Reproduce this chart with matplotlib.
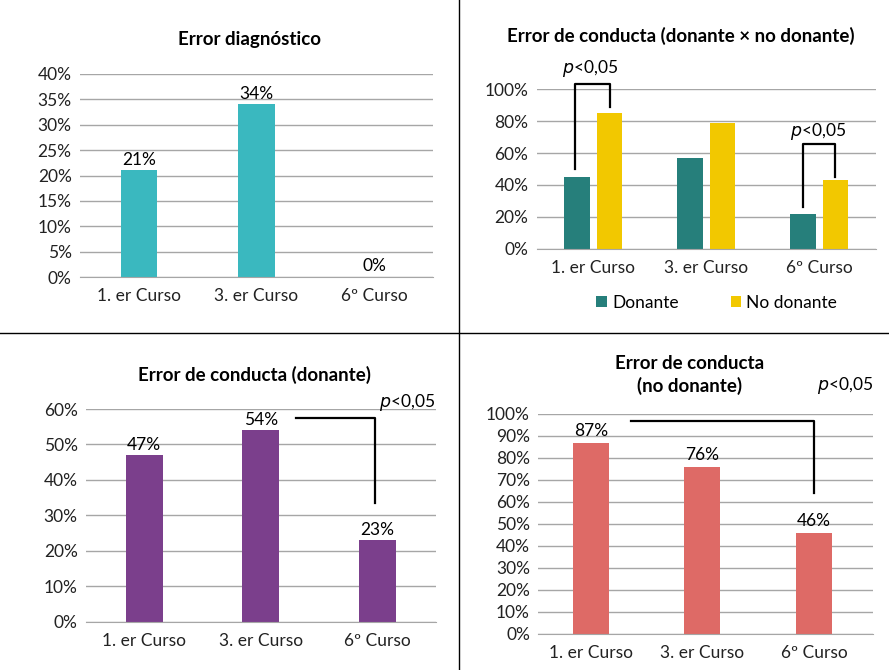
import matplotlib
matplotlib.use('Agg')
import matplotlib.pyplot as plt
from matplotlib.lines import Line2D
import numpy as np

plt.rcParams['font.family'] = ['Lato', 'DejaVu Sans']

cursos = ['1. er Curso', '3. er Curso', '6º Curso']

# Error diagnóstico
diag = [21, 34, 0]
# Error de conducta, donante x no donante
cond_donante = [45, 57, 22]
cond_no_donante = [85, 79, 43]
# Error de conducta (donante)
donante = [47, 54, 23]
# Error de conducta (no donante)
no_donante = [87, 76, 46]

W, H = 889, 670
fig = plt.figure(figsize=(W / 100, H / 100), dpi=100)

GRID = '#a6a6a6'
FS = 12.5
TFS = 13.5


def px_axes(left, top, right, bottom):
    return fig.add_axes([left / W, 1 - bottom / H, (right - left) / W, (bottom - top) / H])


def style(ax, ymax, step):
    ax.set_ylim(0, ymax)
    ax.set_yticks(np.arange(0, ymax + 0.1, step))
    ax.set_yticklabels([f'{int(v)}%' for v in np.arange(0, ymax + 0.1, step)])
    ax.yaxis.grid(True, color=GRID, lw=1)
    ax.set_axisbelow(True)
    for s in ['top', 'right', 'left']:
        ax.spines[s].set_visible(False)
    ax.spines['bottom'].set_color(GRID)
    ax.tick_params(length=0, labelsize=FS, colors='#222222')
    ax.tick_params(axis='y', pad=6)
    ax.tick_params(axis='x', pad=8)
    ax.set_xticks(range(3))
    ax.set_xticklabels(cursos)


def bracket(ax, xs, ys):
    ax.add_line(Line2D(xs, ys, color='black', lw=1.6, clip_on=False))


def ptext(ax, x, y, ha='center', transform=None):
    ax.text(x, y, r'$\it{p}$<0,05', ha=ha, va='center', fontsize=FS,
            transform=transform or ax.transData, clip_on=False)


# panel 1
ax1 = px_axes(80, 74, 433, 277)
x = np.arange(3)
ax1.bar(x, diag, width=0.31, color='#3ab8bf')
style(ax1, 40, 5)
ax1.set_xlim(-0.5, 2.5)
for i, v in enumerate(diag):
    ax1.text(i, v + 0.5, f'{v}%', ha='center', va='bottom', fontsize=FS)
fig.text(250 / W, 1 - 40 / H, 'Error diagnóstico', ha='center', va='center',
         fontsize=TFS, fontweight='bold')

# panel 2
ax2 = px_axes(536.7, 89.3, 875.7, 248.7)
off = 0.143
ax2.bar(x - off, cond_donante, width=0.224, color='#267f7b', label='Donante')
ax2.bar(x + off, cond_no_donante, width=0.224, color='#f2c800', label='No donante')
style(ax2, 100, 20)
ax2.set_xlim(-0.5, 2.5)
bracket(ax2, [-off - 0.02, -off - 0.02, off + 0.01, off + 0.01], [50, 103.3, 103.3, 88.7])
ptext(ax2, -0.03, 113)
bracket(ax2, [2 - off, 2 - off, 2 + off, 2 + off], [26.3, 65.7, 65.7, 45.2])
ptext(ax2, 1.99, 73.5)
fig.text(681 / W, 1 - 36 / H, 'Error de conducta (donante \u00d7 no donante)',
         ha='center', va='center', fontsize=TFS, fontweight='bold')
ax2.legend(loc='center', bbox_to_anchor=(716.7 / W, 1 - 303 / H),
           bbox_transform=fig.transFigure, ncol=2, frameon=False,
           fontsize=FS, handlelength=0.6, handleheight=0.6, handletextpad=0.3,
           columnspacing=3.0)

# panel 3
ax3 = px_axes(86, 409, 435.7, 621.7)
ax3.bar(x, donante, width=0.317, color='#7b3f8c')
style(ax3, 60, 10)
ax3.set_xlim(-0.5, 2.5)
for i, v in enumerate(donante):
    ax3.text(i, v + 0.7, f'{v}%', ha='center', va='bottom', fontsize=FS)
bracket(ax3, [1.3, 1.98, 1.98], [57.5, 57.5, 33.4])
ptext(ax3, 1.0, 1.03, ha='right', transform=ax3.transAxes)
fig.text(254 / W, 1 - 375 / H, 'Error de conducta (donante)', ha='center',
         va='center', fontsize=TFS, fontweight='bold')

# panel 4
ax4 = px_axes(538.3, 414, 873.3, 634)
ax4.bar(x, no_donante, width=0.322, color='#de6a66')
style(ax4, 100, 10)
ax4.set_xlim(-0.47, 2.53)
for i, v in enumerate(no_donante):
    ax4.text(i, v + 1.5, f'{v}%', ha='center', va='bottom', fontsize=FS)
bracket(ax4, [0.36, 2.0, 2.0], [97, 97, 64])
ptext(ax4, 1.0, 1.13, ha='right', transform=ax4.transAxes)
fig.text(690 / W, 1 - 375 / H, 'Error de conducta\n(no donante)', ha='center',
         va='center', fontsize=TFS, fontweight='bold', linespacing=1.35)

# separators between the four charts
fig.add_artist(Line2D([459 / W, 459 / W], [0, 1], color='black', lw=1))
fig.add_artist(Line2D([0, 1], [1 - 333 / H, 1 - 333 / H], color='black', lw=1))

fig.savefig('out.png', dpi=100)
